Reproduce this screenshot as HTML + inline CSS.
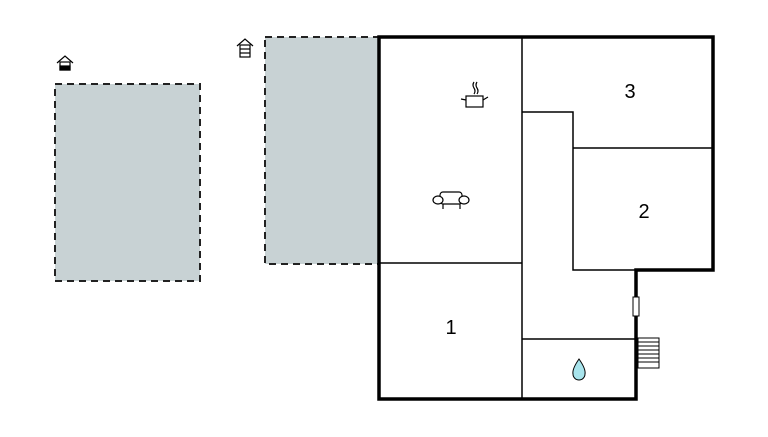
<!DOCTYPE html>
<html><head><style>body{margin:0;background:#fff}</style></head><body>
<svg width="768" height="432" xmlns="http://www.w3.org/2000/svg" font-family="Liberation Sans, sans-serif">
<rect x="55" y="84" width="145" height="197" fill="#c8d2d4" stroke="#222" stroke-width="2" stroke-dasharray="7,5"/>
<rect x="265" y="37" width="114" height="227" fill="#c8d2d4" stroke="#222" stroke-width="2" stroke-dasharray="7,5"/>
<!-- small house icons -->
<g stroke="#000" fill="none" stroke-width="1.2">
<path d="M57 63 L65 56 L73 63"/><rect x="60" y="62" width="10" height="8" fill="#fff"/><rect x="60" y="66" width="10" height="4" fill="#000"/>
<path d="M237 46 L245 39 L253 46"/><rect x="240" y="45" width="10" height="12" fill="#fff"/><line x1="240" y1="49" x2="250" y2="49"/><line x1="240" y1="53" x2="250" y2="53"/>
</g>
<g stroke="#000" fill="none">
<path d="M379 37 H713 V270 H636 V399 H379 Z" stroke-width="3.5"/>
<g stroke-width="1.5">
<line x1="522" y1="37" x2="522" y2="399"/>
<line x1="379" y1="263" x2="522" y2="263"/>
<polyline points="522,112 573,112 573,270 636,270"/>
<line x1="573" y1="148" x2="713" y2="148"/>
<line x1="522" y1="339" x2="636" y2="339"/>
</g>
<rect x="633" y="297" width="6" height="19" fill="#fff" stroke-width="1"/>
<g stroke-width="1"><rect x="638" y="338" width="21" height="30" fill="#fff"/>
<line x1="638" y1="342" x2="659" y2="342"/><line x1="638" y1="346" x2="659" y2="346"/><line x1="638" y1="350" x2="659" y2="350"/><line x1="638" y1="354" x2="659" y2="354"/><line x1="638" y1="358" x2="659" y2="358"/><line x1="638" y1="362" x2="659" y2="362"/></g>
<!-- pot -->
<g stroke-width="1.2"><rect x="466" y="96" width="17" height="11"/><path d="M461 99 L466 100 M483 100 L488 97"/><path d="M474 82 q-2 3 0 6 q2 3 0 6 M477 82 q-2 3 0 6 q2 3 0 6"/></g>
<!-- sofa -->
<g stroke-width="1.2"><rect x="440" y="192" width="22" height="12" rx="3"/><ellipse cx="438" cy="200" rx="5" ry="4" fill="#fff"/><ellipse cx="464" cy="200" rx="5" ry="4" fill="#fff"/><path d="M443 204 v5 M460 204 v5"/></g>
</g>
<path d="M579 359 q-7 10 -6 15 a6 6 0 0 0 12 0 q1 -5 -6 -15z" fill="#a8e4ec" stroke="#000" stroke-width="1"/>
<g font-size="20" fill="#000" text-anchor="middle">
<text x="630" y="98">3</text><text x="644" y="218">2</text><text x="451" y="334">1</text>
</g>
</svg>
</body></html>
